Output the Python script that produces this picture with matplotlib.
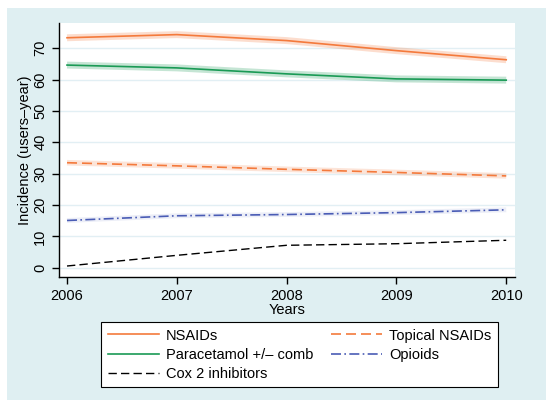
import matplotlib
matplotlib.use("Agg")
import matplotlib.pyplot as plt

plt.rcParams['font.family'] = ['Liberation Sans', 'DejaVu Sans']

years = [2006, 2007, 2008, 2009, 2010]
nsaids = [73.3, 74.3, 72.4, 69.2, 66.3]
paracetamol = [64.6, 63.7, 61.8, 60.2, 59.8]
topical = [33.5, 32.5, 31.4, 30.4, 29.3]
opioids = [15.1, 16.6, 17.0, 17.6, 18.5]
cox2 = [0.6, 4.0, 7.2, 7.7, 8.8]
yticks = [0, 10, 20, 30, 40, 50, 60, 70]

fig = plt.figure(figsize=(5.46, 4.0), dpi=100)
fig.patch.set_facecolor('white')
bg = fig.add_axes([7/546, 0, 1 - 7/546, 392/400], zorder=-10)
bg.set_facecolor('#dfeff2')
bg.set_xticks([]); bg.set_yticks([])
for s in bg.spines.values():
    s.set_visible(False)

ax = fig.add_axes([59/546, 123/400, 456/546, 254/400], zorder=1)
ax.set_facecolor('white')
for s in ['top', 'right']:
    ax.spines[s].set_visible(False)
ax.spines['left'].set_linewidth(1.0)
ax.spines['bottom'].set_linewidth(1.0)

for yt in yticks:
    ax.axhline(yt, color='#e2eff4', lw=1.0, zorder=1)

orange = '#f47a3c'
green = '#1a9a55'
blue = '#4a5cb5'

# confidence band look
ax.plot(years, nsaids, color=orange, lw=5, alpha=0.25, zorder=2, solid_capstyle='butt')
ax.plot(years, paracetamol, color=green, lw=5, alpha=0.25, zorder=2, solid_capstyle='butt')
ax.plot(years, topical, color=orange, lw=4, alpha=0.2, zorder=2, solid_capstyle='butt')
ax.plot(years, opioids, color=blue, lw=3.5, alpha=0.1, zorder=2, solid_capstyle='butt')

l1, = ax.plot(years, nsaids, color=orange, lw=1.2, zorder=3, label='NSAIDs')
l2, = ax.plot(years, paracetamol, color=green, lw=1.2, zorder=3, label='Paracetamol +/\u2013 comb')
l3, = ax.plot(years, cox2, color='black', lw=1.0, ls=(0, (6, 3)), zorder=3, label='Cox 2 inhibitors')
l4, = ax.plot(years, topical, color=orange, lw=1.2, ls=(0, (6, 3)), zorder=3, label='Topical NSAIDs')
l5, = ax.plot(years, opioids, color=blue, lw=1.2, ls=(0, (6, 2, 1, 2)), zorder=3, label='Opioids')

ax.set_xlim(2005.927, 2010.08)
ax.set_ylim(-2.9, 78)
ax.set_xticks(years)
ax.set_yticks(yticks)
ax.tick_params(axis='both', direction='out', length=5, width=1, labelsize=10.5, colors='black')
for lab in ax.get_yticklabels():
    lab.set_rotation(90)
    lab.set_va('center')
ax.set_xlabel('Years', fontsize=10.5, labelpad=0)
ax.set_ylabel('Incidence (users\u2013year)', fontsize=10.5, labelpad=1)

leg = fig.legend(handles=[l1, l2, l3, l4, l5], ncol=2, loc='upper center',
                 bbox_to_anchor=((103 + 496) / 2 / 546, 1 - 322 / 400),
                 fontsize=10.5, frameon=True, fancybox=False, handlelength=3.5,
                 borderaxespad=0, labelspacing=0.35, columnspacing=1.2, handletextpad=0.5,
                 borderpad=0.45)
leg.set_zorder(5)
leg.get_frame().set_edgecolor('black')
leg.get_frame().set_linewidth(0.8)
leg.get_frame().set_facecolor('white')
leg.get_frame().set_alpha(1)

fig.savefig('out.png', dpi=100, facecolor=fig.get_facecolor())
